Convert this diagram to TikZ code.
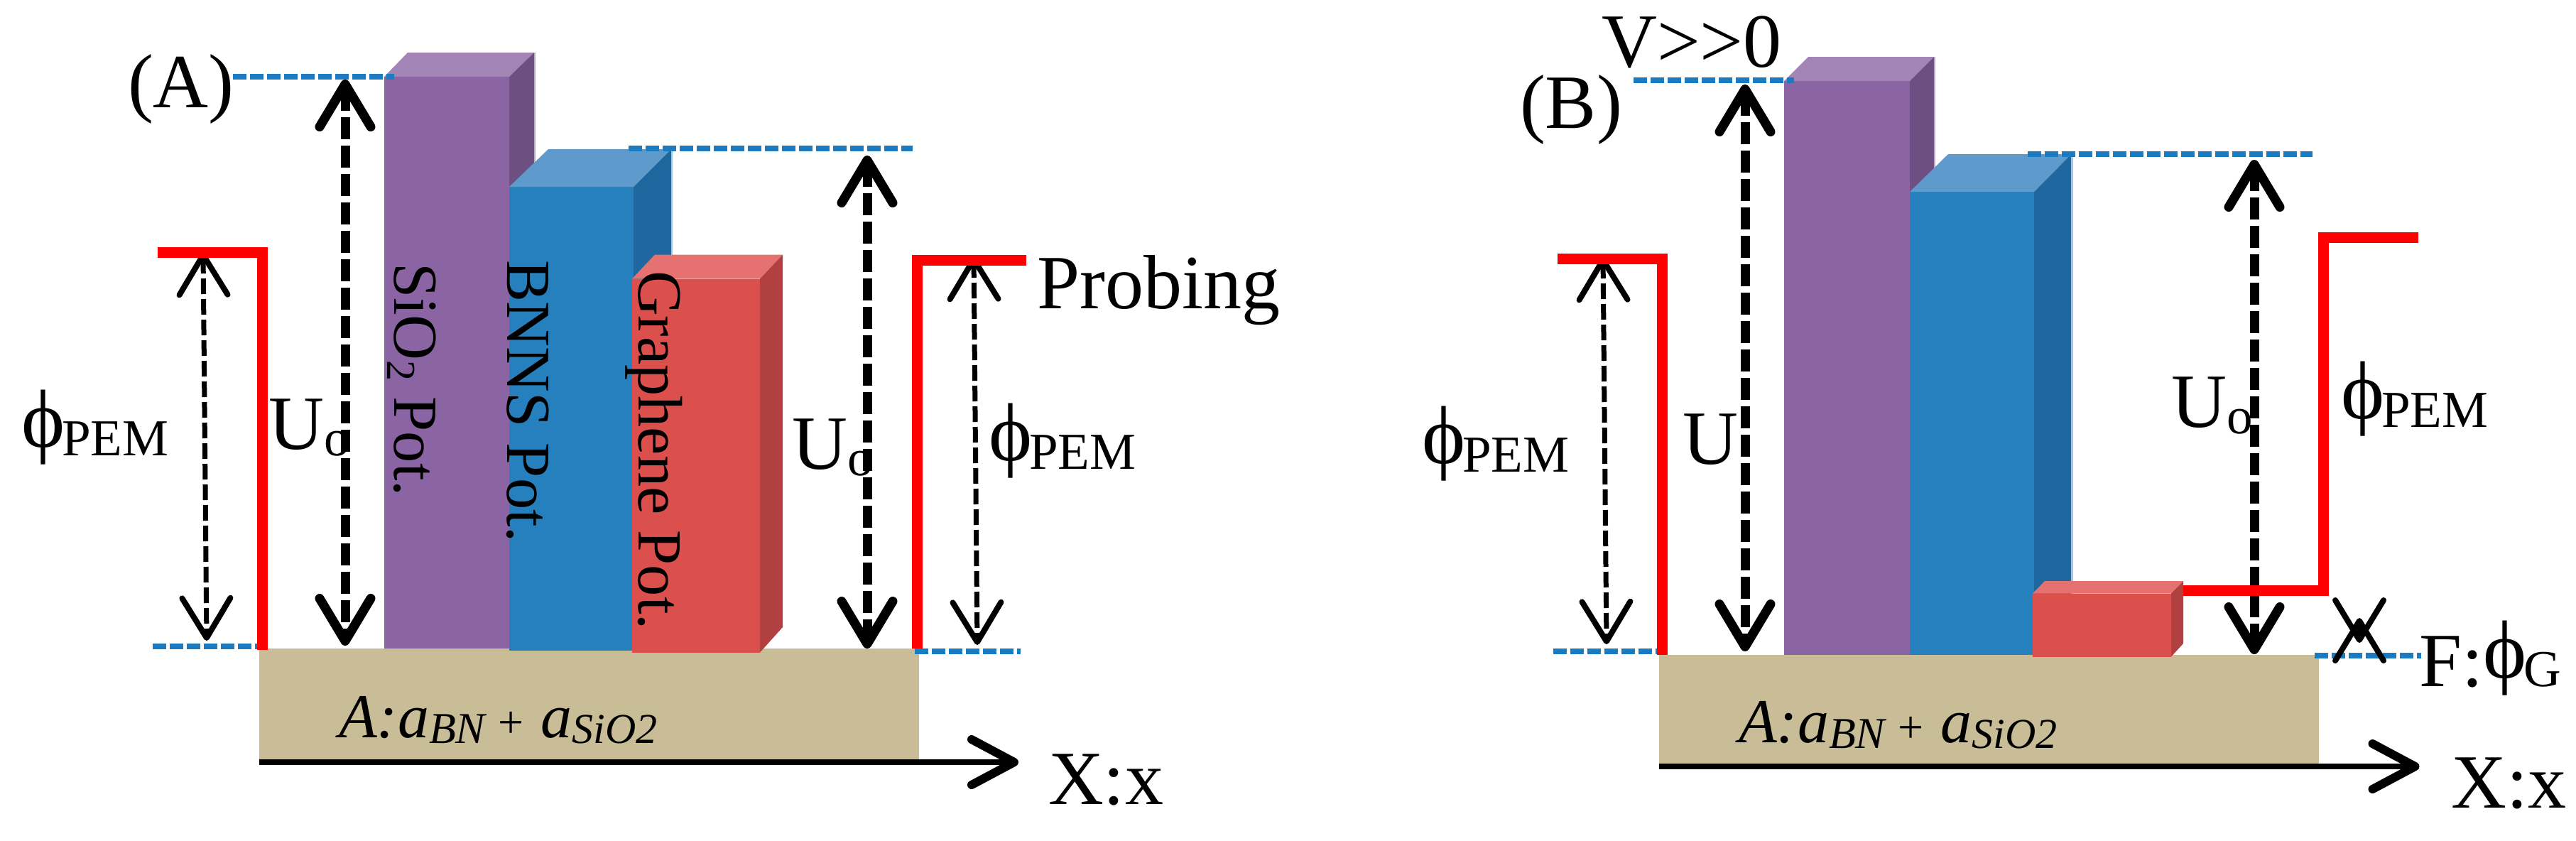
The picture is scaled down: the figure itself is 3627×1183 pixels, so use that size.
\documentclass[tikz,border=0pt]{standalone}
\usepackage{fontspec}
\setmainfont{Liberation Serif}
\usetikzlibrary{arrows.meta}
\definecolor{purF}{HTML}{8B64A3}\definecolor{purT}{HTML}{A285B5}\definecolor{purS}{HTML}{6E4F82}\definecolor{purE}{HTML}{BBA9CA}
\definecolor{bluF}{HTML}{2580BD}\definecolor{bluT}{HTML}{5E9ACB}\definecolor{bluS}{HTML}{1F689F}\definecolor{bluE}{HTML}{A9C4DC}
\definecolor{redF}{HTML}{DB4F4D}\definecolor{redT}{HTML}{E57170}\definecolor{redS}{HTML}{B04140}
\definecolor{tanF}{HTML}{C8BD96}\definecolor{levelC}{HTML}{1B7BC0}
\newcommand{\fbig}{\fontsize{27pt}{27pt}\selectfont}
\newcommand{\fsub}{\fontsize{18.25pt}{18.25pt}\selectfont}
\newcommand{\frot}{\fontsize{22.1pt}{22.1pt}\selectfont}
\newcommand{\phisym}{\raisebox{2.9pt}{\fontsize{29pt}{29pt}\selectfont ϕ}\hspace{-1pt}}
\newcommand{\phipem}{\phisym{\fsub PEM}}
\newcommand{\uo}{{\fbig U}\raisebox{-2.3pt}{\fsub o}}
\newcommand{\matlabel}{{\fontsize{22pt}{22pt}\selectfont\itshape A:a}\raisebox{-2.2pt}{\fontsize{15.5pt}{15.5pt}\selectfont\itshape BN}\hspace{4.5pt}{\fontsize{16pt}{16pt}\selectfont +}\hspace{6pt}{\fontsize{22pt}{22pt}\selectfont\itshape a}\raisebox{-2.2pt}{\fontsize{15pt}{15pt}\selectfont\itshape SiO2}}
\tikzset{
  txt/.style={anchor=base west,inner sep=0pt,outer sep=0pt,font=\fbig},
  rottxt/.style={anchor=base west,inner sep=0pt,outer sep=0pt,rotate=-90,font=\frot},
  level/.style={levelC,line width=2pt,dash pattern=on 4.75pt off 1.25pt},
  redline/.style={red,line width=3.75pt,miter limit=10},
  thinarrow/.style={black,line width=1.75pt,dash pattern=on 5.5pt off 1.75pt,
    {Straight Barb[length=14pt,width=17pt,line width=2pt,round]}-{Straight Barb[length=14pt,width=17pt,line width=2pt,round]}},
  thickarrow/.style={black,line width=3.25pt,dash pattern=on 7.75pt off 2.25pt,
    {Straight Barb[length=15pt,width=18pt,line width=3.25pt,round]}-{Straight Barb[length=15pt,width=18pt,line width=3.25pt,round]}},
  axisarrow/.style={black,line width=1.9pt,-{Straight Barb[length=15pt,width=16pt,line width=3pt,round]}},
  baredge/.style={line width=0.7pt},
}
\begin{document}
\begin{tikzpicture}[x=0.25pt,y=-0.25pt]
\useasboundingbox (0,0) rectangle (3627,1183);
% ---------------- Panel A ----------------
\fill[tanF] (365,913) rectangle (1293.5,1070);
% purple bar
\fill[purF] (541,108) rectangle (717,913);
\fill[purT] (541,108)--(574,74)--(752,74)--(717,108)--cycle;
\fill[purS] (717,108)--(752,74)--(752,300)--(717,300)--cycle;
\draw[baredge,purE] (753,74)--(753,300);
% blue bar
\fill[bluF] (717,263) rectangle (892,915.5);
\fill[bluT] (717,263)--(772,210)--(945,210)--(892,263)--cycle;
\fill[bluS] (892,263)--(945,210)--(945,420)--(892,420)--cycle;
\draw[baredge,bluE] (946,210)--(946,420);
% red bar
\fill[redF] (890,392.5) rectangle (1070,918.5);
\fill[redT] (890,392.5)--(922,358.5)--(1102,358.5)--(1070,392.5)--cycle;
\fill[redS] (1070,392.5)--(1102,358.5)--(1102,883)--(1070,918.5)--cycle;
% axis
\coordinate (ax0) at (365,1073); \coordinate (ax1) at (1434,1073);
\draw[axisarrow] (ax0) -- (ax1);
% level lines
\coordinate (l1a) at (328,108); \coordinate (l1b) at (555,108);
\coordinate (l2a) at (885,209); \coordinate (l2b) at (1285,209);
\coordinate (l3a) at (215,909.5); \coordinate (l3b) at (365,909.5);
\coordinate (l4a) at (1288,917); \coordinate (l4b) at (1437,917);
\draw[level] (l1a)--(l1b); \draw[level] (l2a)--(l2b); \draw[level] (l3a)--(l3b); \draw[level] (l4a)--(l4b);
% arrows
\coordinate (ta1) at (286,355); \coordinate (ta2) at (291,902);
\draw[thinarrow] (ta1)--(ta2);
\coordinate (ta3) at (1371,361); \coordinate (ta4) at (1376,908);
\draw[thinarrow] (ta3)--(ta4);
\coordinate (tk1) at (486,112); \coordinate (tk2) at (486,909);
\draw[thickarrow] (tk1)--(tk2);
\coordinate (tk3) at (1221,219); \coordinate (tk4) at (1221,913);
\draw[thickarrow] (tk3)--(tk4);
% red steps
\coordinate (ra1) at (222,355); \coordinate (ra2) at (369,355); \coordinate (ra3) at (369,915);
\draw[redline] (ra1)--(ra2)--(ra3);
\coordinate (ra4) at (1445,366); \coordinate (ra5) at (1291,366); \coordinate (ra6) at (1291,913);
\draw[redline] (ra4)--(ra5)--(ra6);
% texts
\node[txt] (labA) at (180,151) {(A)};
\node[txt] (phiA1) at (30,641.5) {\phipem};
\node[txt] (uA1) at (378,632.5) {\uo};
\node[txt] (uA2) at (1115,660) {\uo};
\node[txt] (phiA2) at (1392,660) {\phipem};
\node[txt] (probing) at (1460,434) {Probing};
\node[txt] (xA) at (1476,1132) {X:x};
\node[rottxt] (sio) at (555,370) {SiO\raisebox{-2.5pt}{\fontsize{14.5pt}{14.5pt}\selectfont 2} Pot.};
\node[rottxt] (bnns) at (714,366) {BNNS Pot.};
\node[rottxt] (graph) at (899,381) {Graphene Pot.};
\node[txt] (matA) at (477,1038) {\matlabel};
% ---------------- Panel B ----------------
\fill[tanF] (2336,922) rectangle (3265,1075.5);
\fill[purF] (2512,114) rectangle (2689,922);
\fill[purT] (2512,114)--(2546,80)--(2723,80)--(2689,114)--cycle;
\fill[purS] (2689,114)--(2723,80)--(2723,300)--(2689,300)--cycle;
\draw[baredge,purE] (2724,80)--(2724,300);
\fill[bluF] (2689,270) rectangle (2864,922);
\fill[bluT] (2689,270)--(2743,217)--(2916.5,217)--(2864,270)--cycle;
\fill[bluS] (2864,270)--(2916.5,217)--(2916.5,840)--(2864,840)--cycle;
\draw[baredge,bluE] (2917.5,217)--(2917.5,840);
\fill[redF] (2862,835.5) rectangle (3057,924.5);
\fill[redT] (2862,835.5)--(2879,818)--(3074,818)--(3057,835.5)--cycle;
\fill[redS] (3057,835.5)--(3074,818)--(3074,906)--(3057,924.5)--cycle;
\coordinate (bx0) at (2336,1079); \coordinate (bx1) at (3406.5,1079);
\draw[axisarrow] (bx0) -- (bx1);
\coordinate (m1a) at (2300,113); \coordinate (m1b) at (2526,113);
\coordinate (m2a) at (2855,217); \coordinate (m2b) at (3256,217);
\coordinate (m3a) at (2187,917); \coordinate (m3b) at (2336,917);
\coordinate (m4a) at (3259,923); \coordinate (m4b) at (3409,923);
\draw[level] (m1a)--(m1b); \draw[level] (m2a)--(m2b); \draw[level] (m3a)--(m3b); \draw[level] (m4a)--(m4b);
\coordinate (tb1) at (2257,362); \coordinate (tb2) at (2262,907);
\draw[thinarrow] (tb1)--(tb2);
\coordinate (kb1) at (2457,119); \coordinate (kb2) at (2457,917);
\draw[thickarrow] (kb1)--(kb2);
\coordinate (kb3) at (3174,225); \coordinate (kb4) at (3174,921);
\draw[thickarrow] (kb3)--(kb4);
\coordinate (xb1) at (3322,870); \coordinate (xb2) at (3322,905);
\draw[thinarrow,solid] (xb1)--(xb2);
\coordinate (rb1) at (2193,364); \coordinate (rb2) at (2340.5,364); \coordinate (rb3) at (2340.5,922);
\draw[redline] (rb1)--(rb2)--(rb3);
\coordinate (rb4) at (3405,334); \coordinate (rb5) at (3271,334); \coordinate (rb6) at (3271,831); \coordinate (rb7) at (3074,831);
\draw[redline] (rb4)--(rb5)--(rb6)--(rb7);
\node[txt] (labB) at (2140,180) {(B)};
\node[txt] (vgg) at (2255,94) {V>{}>0};
\node[txt] (phiB1) at (2002,664) {\phipem};
\node[txt] (uB1) at (2369,653) {U};
\node[txt] (uB2) at (3057,601.5) {\uo};
\node[txt] (phiB2) at (3296,601.5) {\phipem};
\node[txt] (fphi) at (3406.5,966) {F:\phisym{\fsub G}};
\node[txt] (xB) at (3451,1137) {X:x};
\node[txt] (matB) at (2448,1045) {\matlabel};
\end{tikzpicture}
\end{document}
